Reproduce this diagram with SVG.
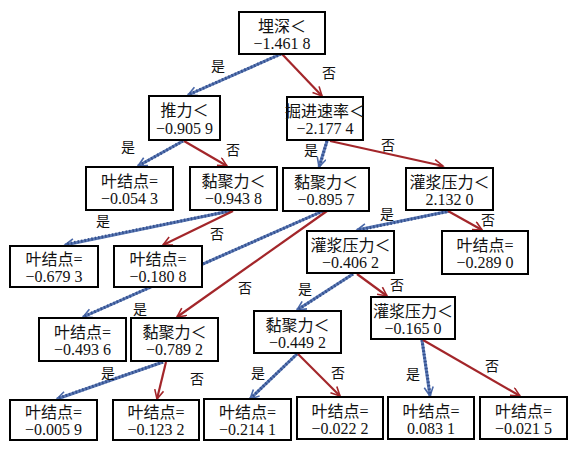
<svg xmlns="http://www.w3.org/2000/svg" width="576" height="452" viewBox="0 0 576 452">
<style>
.box{fill:#fff;stroke:#000;stroke-width:2}
.t{font-family:"Liberation Serif","Noto Sans CJK SC",serif;font-size:16px;text-anchor:middle;fill:#111}
.lb{font-family:"Noto Sans CJK SC",sans-serif;font-size:14px;text-anchor:middle;dominant-baseline:central;fill:#111}
.r{stroke:#a3262a;stroke-width:2.2;fill:none;marker-end:url(#ar)}
.b{stroke:#5a78b4;stroke-width:3;fill:none;marker-end:url(#ab)}
.bd{stroke:#34508e;stroke-width:3;stroke-dasharray:1.5 2;fill:none}
</style>
<defs>
<marker id="ar" markerUnits="userSpaceOnUse" markerWidth="12" markerHeight="12" refX="10" refY="5" orient="auto"><path d="M1,0.5 L10,5 L1,9.5" fill="none" stroke="#a3262a" stroke-width="1.6"/></marker>
<marker id="ab" markerUnits="userSpaceOnUse" markerWidth="12" markerHeight="12" refX="10" refY="5" orient="auto"><path d="M1,0.5 L10,5 L1,9.5" fill="none" stroke="#4a68a8" stroke-width="1.6"/></marker>
</defs>
<rect width="576" height="452" fill="#fff"/>
<g id="connectors">
<path class="b" d="M281,54 L188,95"/><path class="bd" d="M281,54 L190,94"/>
<path class="r" d="M282,54 L322,96"/>
<path class="b" d="M183,141 L138,166"/><path class="bd" d="M183,141 L140,165"/>
<path class="r" d="M184,141 L227,166"/>
<path class="b" d="M327,141 L319,167"/><path class="bd" d="M327,141 L320,165"/>
<path class="r" d="M330,141 L443,166"/>
<path class="b" d="M230,211 L65,245"/><path class="bd" d="M230,211 L67,244"/>
<path class="r" d="M233,211 L163,245"/>
<path class="b" d="M323,211 L83,317"/><path class="bd" d="M323,211 L85,316"/>
<path class="r" d="M327,211 L177,317"/>
<path class="b" d="M450,211 L357,230"/><path class="bd" d="M450,211 L359,230"/>
<path class="r" d="M448,211 L482,230"/>
<path class="b" d="M353,274 L297,310"/><path class="bd" d="M353,274 L299,309"/>
<path class="r" d="M357,274 L387,296"/>
<path class="b" d="M163,362 L57,399"/><path class="bd" d="M163,362 L59,398"/>
<path class="r" d="M166,362 L157,399"/>
<path class="b" d="M297,354 L250,399"/><path class="bd" d="M297,354 L252,397"/>
<path class="r" d="M298,354 L340,396"/>
<path class="b" d="M422,340 L430,396"/><path class="bd" d="M422,340 L430,394"/>
<path class="r" d="M423,340 L520,396"/>
<text class="lb" x="218" y="65">是</text><text class="lb" x="329" y="72">否</text>
<text class="lb" x="128" y="146">是</text><text class="lb" x="233" y="149">否</text>
<text class="lb" x="311" y="149">是</text><text class="lb" x="388" y="144">否</text>
<text class="lb" x="103" y="220">是</text><text class="lb" x="217" y="233">否</text>
<text class="lb" x="140" y="308">是</text><text class="lb" x="245" y="287">否</text>
<text class="lb" x="387" y="213">是</text><text class="lb" x="488" y="219">否</text>
<text class="lb" x="305" y="288">是</text><text class="lb" x="397" y="284">否</text>
<text class="lb" x="108" y="372">是</text><text class="lb" x="197" y="378">否</text>
<text class="lb" x="258" y="372">是</text><text class="lb" x="338" y="372">否</text>
<text class="lb" x="413" y="373">是</text><text class="lb" x="492" y="365">否</text>
</g>
<g id="n_root"><rect class="box" x="239" y="12" width="86" height="42"/><text class="t" x="282" y="32">埋深＜</text><text class="t" x="282" y="49">−1.461 8</text></g>
<g id="n_tuili"><rect class="box" x="149" y="96" width="71" height="44"/><text class="t" x="184.5" y="116">推力＜</text><text class="t" x="184.5" y="134">−0.905 9</text></g>
<g id="n_juejin"><rect class="box" x="287" y="97" width="76" height="43"/><text class="t" x="325" y="117">掘进速率＜</text><text class="t" x="325" y="134">−2.177 4</text></g>
<g id="n_l0543"><rect class="box" x="86" y="167" width="87" height="43"/><text class="t" x="129.5" y="187">叶结点=</text><text class="t" x="129.5" y="204">−0.054 3</text></g>
<g id="n_n9438"><rect class="box" x="190" y="167" width="87" height="43"/><text class="t" x="233.5" y="187">黏聚力＜</text><text class="t" x="233.5" y="204">−0.943 8</text></g>
<g id="n_n8957"><rect class="box" x="283" y="168" width="86" height="43"/><text class="t" x="326" y="188">黏聚力＜</text><text class="t" x="326" y="205">−0.895 7</text></g>
<g id="n_g21320"><rect class="box" x="406" y="168" width="87" height="42"/><text class="t" x="449.5" y="188">灌浆压力＜</text><text class="t" x="449.5" y="205">2.132 0</text></g>
<g id="n_l6793"><rect class="box" x="10" y="246" width="88" height="41"/><text class="t" x="54" y="265">叶结点=</text><text class="t" x="54" y="282">−0.679 3</text></g>
<g id="n_l1808"><rect class="box" x="114" y="246" width="88" height="41"/><text class="t" x="158" y="265">叶结点=</text><text class="t" x="158" y="282">−0.180 8</text></g>
<g id="n_g4062"><rect class="box" x="307" y="231" width="87" height="42"/><text class="t" x="350.5" y="251">灌浆压力＜</text><text class="t" x="350.5" y="268">−0.406 2</text></g>
<g id="n_l2890"><rect class="box" x="442" y="231" width="86" height="43"/><text class="t" x="485" y="251">叶结点=</text><text class="t" x="485" y="268">−0.289 0</text></g>
<g id="n_l4936"><rect class="box" x="39" y="318" width="87" height="43"/><text class="t" x="82.5" y="338">叶结点=</text><text class="t" x="82.5" y="355">−0.493 6</text></g>
<g id="n_n7892"><rect class="box" x="131" y="318" width="87" height="43"/><text class="t" x="174.5" y="338">黏聚力＜</text><text class="t" x="174.5" y="355">−0.789 2</text></g>
<g id="n_n4492"><rect class="box" x="254" y="311" width="87" height="42"/><text class="t" x="297.5" y="331">黏聚力＜</text><text class="t" x="297.5" y="348">−0.449 2</text></g>
<g id="n_g1650"><rect class="box" x="371" y="297" width="84" height="42"/><text class="t" x="413" y="317">灌浆压力＜</text><text class="t" x="413" y="334">−0.165 0</text></g>
<g id="n_l0059"><rect class="box" x="10" y="400" width="87" height="40"/><text class="t" x="53.5" y="418">叶结点=</text><text class="t" x="53.5" y="435">−0.005 9</text></g>
<g id="n_l1232"><rect class="box" x="113" y="400" width="86" height="40"/><text class="t" x="156" y="418">叶结点=</text><text class="t" x="156" y="435">−0.123 2</text></g>
<g id="n_l2141"><rect class="box" x="204" y="399" width="87" height="41"/><text class="t" x="247.5" y="418">叶结点=</text><text class="t" x="247.5" y="435">−0.214 1</text></g>
<g id="n_l0222"><rect class="box" x="297" y="397" width="86" height="42"/><text class="t" x="340" y="417">叶结点=</text><text class="t" x="340" y="434">−0.022 2</text></g>
<g id="n_l0831"><rect class="box" x="388" y="397" width="86" height="42"/><text class="t" x="431" y="417">叶结点=</text><text class="t" x="431" y="434">0.083 1</text></g>
<g id="n_l0215"><rect class="box" x="480" y="397" width="87" height="42"/><text class="t" x="523.5" y="417">叶结点=</text><text class="t" x="523.5" y="434">−0.021 5</text></g>
</svg>
